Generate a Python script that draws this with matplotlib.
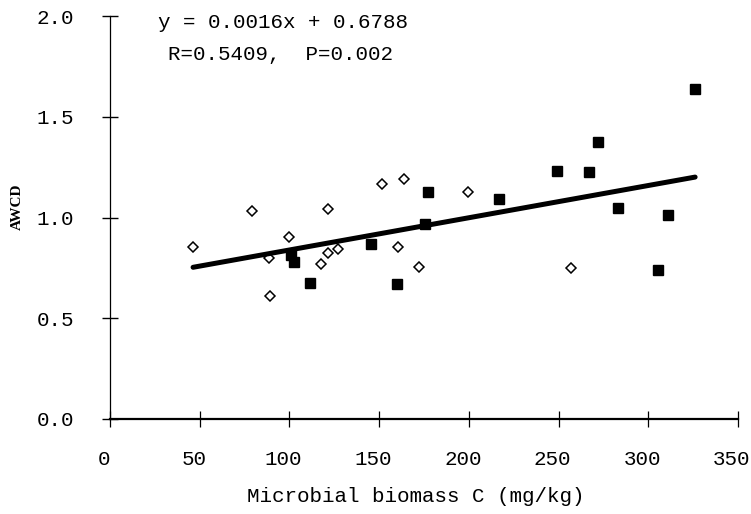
import numpy as np
import matplotlib
matplotlib.use('Agg')
import matplotlib.pyplot as plt
import matplotlib.transforms as mtransforms

plt.rcParams['font.family'] = 'Liberation Mono'

# open diamonds
x_open = [46.3, 79.0, 88.6, 89.2, 99.9, 117.8, 121.3, 121.7, 127.3, 151.8, 163.9, 160.7, 172.1, 199.7, 257.0]
y_open = [0.854, 1.034, 0.799, 0.609, 0.903, 0.769, 1.041, 0.825, 0.845, 1.168, 1.191, 0.852, 0.756, 1.125, 0.751]
# filled squares
x_fill = [100.9, 102.6, 111.5, 145.3, 160.1, 177.4, 175.6, 217.0, 249.0, 266.7, 272.2, 283.0, 311.2, 305.6, 326.1]
y_fill = [0.814, 0.779, 0.676, 0.868, 0.670, 1.128, 0.966, 1.090, 1.232, 1.224, 1.376, 1.046, 1.012, 0.740, 1.638]

slope = 0.0016
intercept = 0.6788
eq_text = 'y = 0.0016x + 0.6788'
stat_text = 'R=0.5409,  P=0.002'

xticks = [0, 50, 100, 150, 200, 250, 300, 350]
yticks = [0.0, 0.5, 1.0, 1.5, 2.0]

W, H = 751, 514
fig = plt.figure(figsize=(W / 100, H / 100), dpi=100)
ax = fig.add_axes([110 / W, (H - 419) / H, 628 / W, 403 / H])

ax.plot(x_open, y_open, linestyle='none', marker='D', markersize=4.8,
        markerfacecolor='white', markeredgecolor='black', markeredgewidth=1.1, zorder=3)
ax.plot(x_fill, y_fill, linestyle='none', marker='s', markersize=7.2,
        markerfacecolor='black', markeredgecolor='black', zorder=3)

allx = np.array(x_open + x_fill)
lx = np.array([allx.min(), allx.max()])
ax.plot(lx, slope * lx + intercept, color='black', lw=3.6, solid_capstyle='round', zorder=4)

ax.set_xlim(0, 350)
ax.set_ylim(0, 2.0)
ax.set_xticks(xticks)
ax.set_yticks(yticks)
ax.set_xticklabels([str(t) for t in xticks])
ax.set_yticklabels(['%.1f' % t for t in yticks])

for s in ['top', 'right']:
    ax.spines[s].set_visible(False)
ax.spines['left'].set_linewidth(0.9)
ax.spines['bottom'].set_linewidth(1.6)
ax.spines['left'].set_zorder(5)
ax.spines['bottom'].set_zorder(5)

ax.tick_params(axis='y', direction='inout', length=11.5, width=1.0, pad=20, labelsize=15)
ax.tick_params(axis='x', direction='inout', length=12, width=0.9, pad=16.5, labelsize=15)

# x tick labels sit a little left of their ticks in the original
shift = mtransforms.ScaledTranslation(-6 / 100, 0, fig.dpi_scale_trans)
for lab in ax.get_xticklabels():
    lab.set_transform(lab.get_transform() + shift)

ax.set_xlabel('Microbial biomass C (mg/kg)', fontsize=15)
ax.xaxis.set_label_coords((416 - 110) / 628, -(497 - 419) / 403)
ax.xaxis.label.set_va('center')
ax.set_ylabel('AWCD', fontsize=11, fontweight='bold', family='Liberation Serif')
ax.yaxis.set_label_coords(-(110 - 17) / 628, (419 - 207) / 403)
ax.yaxis.label.set_va('center')

fig.text(158 / W, 1 - 23 / H, eq_text, fontsize=15, va='center', ha='left')
fig.text(168 / W, 1 - 55 / H, stat_text, fontsize=15, va='center', ha='left')

plt.savefig('out.png', dpi=100)
